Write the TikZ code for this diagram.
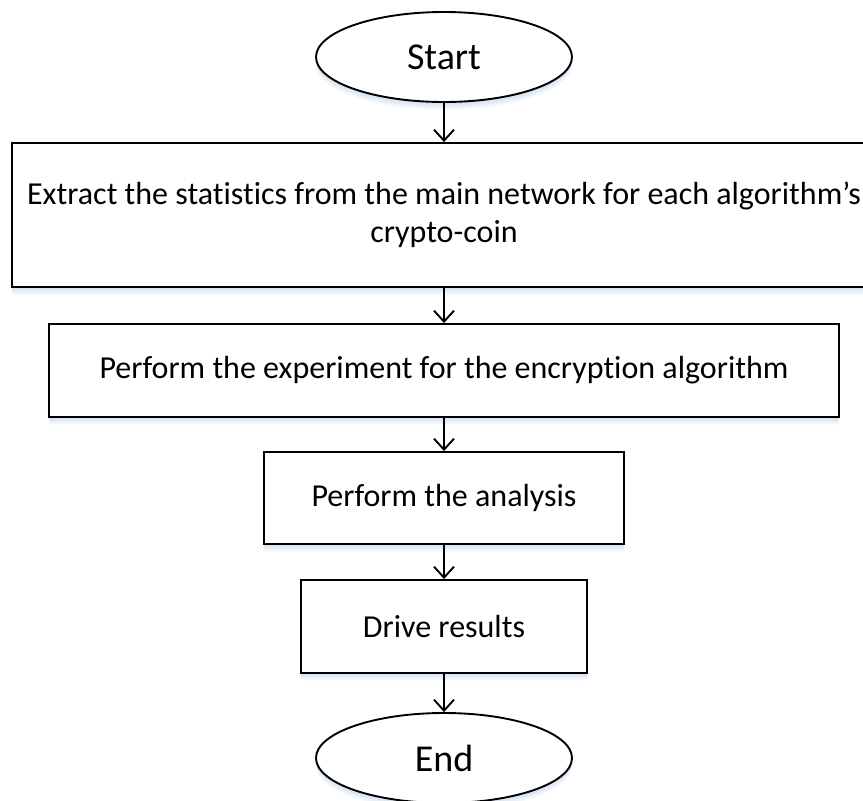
\documentclass[tikz,border=0pt]{standalone}
\usepackage{fontspec}
\setmainfont{Carlito}[Ligatures=CommonOff]
\usetikzlibrary{arrows.meta,shapes.geometric}

\definecolor{shadowblue}{RGB}{80,130,200}

\tikzset{
  % one layer of the soft shadow under a shape, shifted down by #1
  shlayer/.style={preaction={fill=shadowblue,fill opacity=0.03,
      transform canvas={yshift=-#1pt}}},
  soft shadow/.style={shlayer=1,shlayer=2,shlayer=3,shlayer=4,
      shlayer=5,shlayer=6,shlayer=7,shlayer=8},
  stepbox/.style={rectangle,draw=black,line width=1.9pt,fill=white,
      inner sep=0pt,align=center,soft shadow,
      font=\fontsize{32}{38}\selectfont},
  terminal/.style={ellipse,draw=black,line width=1.9pt,fill=white,
      inner sep=0pt,minimum width=256pt,minimum height=90pt,soft shadow,
      font=\fontsize{38}{44}\selectfont},
  flow/.style={draw=black,line width=1.9pt,
      -{Straight Barb[length=11pt,width=20pt,line width=1.9pt]}}
}

\begin{document}
\begin{tikzpicture}[x=1pt,y=-1pt]
  \useasboundingbox (0,0) rectangle (863,801);
  \fill[white] (0,0) rectangle (863,801);

  \node[terminal] (start) at (444,57) {Start};

  \node[stepbox,minimum width=864pt,minimum height=144pt] (extract) at (444,215)
    {Extract the statistics from the main network for each algorithm’s\\crypto-coin};

  \node[stepbox,minimum width=790pt,minimum height=93pt] (experiment) at (444,370.5)
    {Perform the experiment for the encryption algorithm};

  \node[stepbox,minimum width=360pt,minimum height=92pt] (analysis) at (444,498)
    {Perform the analysis};

  \node[stepbox,minimum width=286pt,minimum height=93pt] (results) at (444,626.5)
    {Drive results};

  \node[terminal] (end) at (444,758) {End};

  \draw[flow] (start.south) -- (extract.north);
  \draw[flow] (extract.south) -- (experiment.north);
  \draw[flow] (experiment.south) -- (analysis.north);
  \draw[flow] (analysis.south) -- (results.north);
  \draw[flow] (results.south) -- (end.north);
\end{tikzpicture}
\end{document}
